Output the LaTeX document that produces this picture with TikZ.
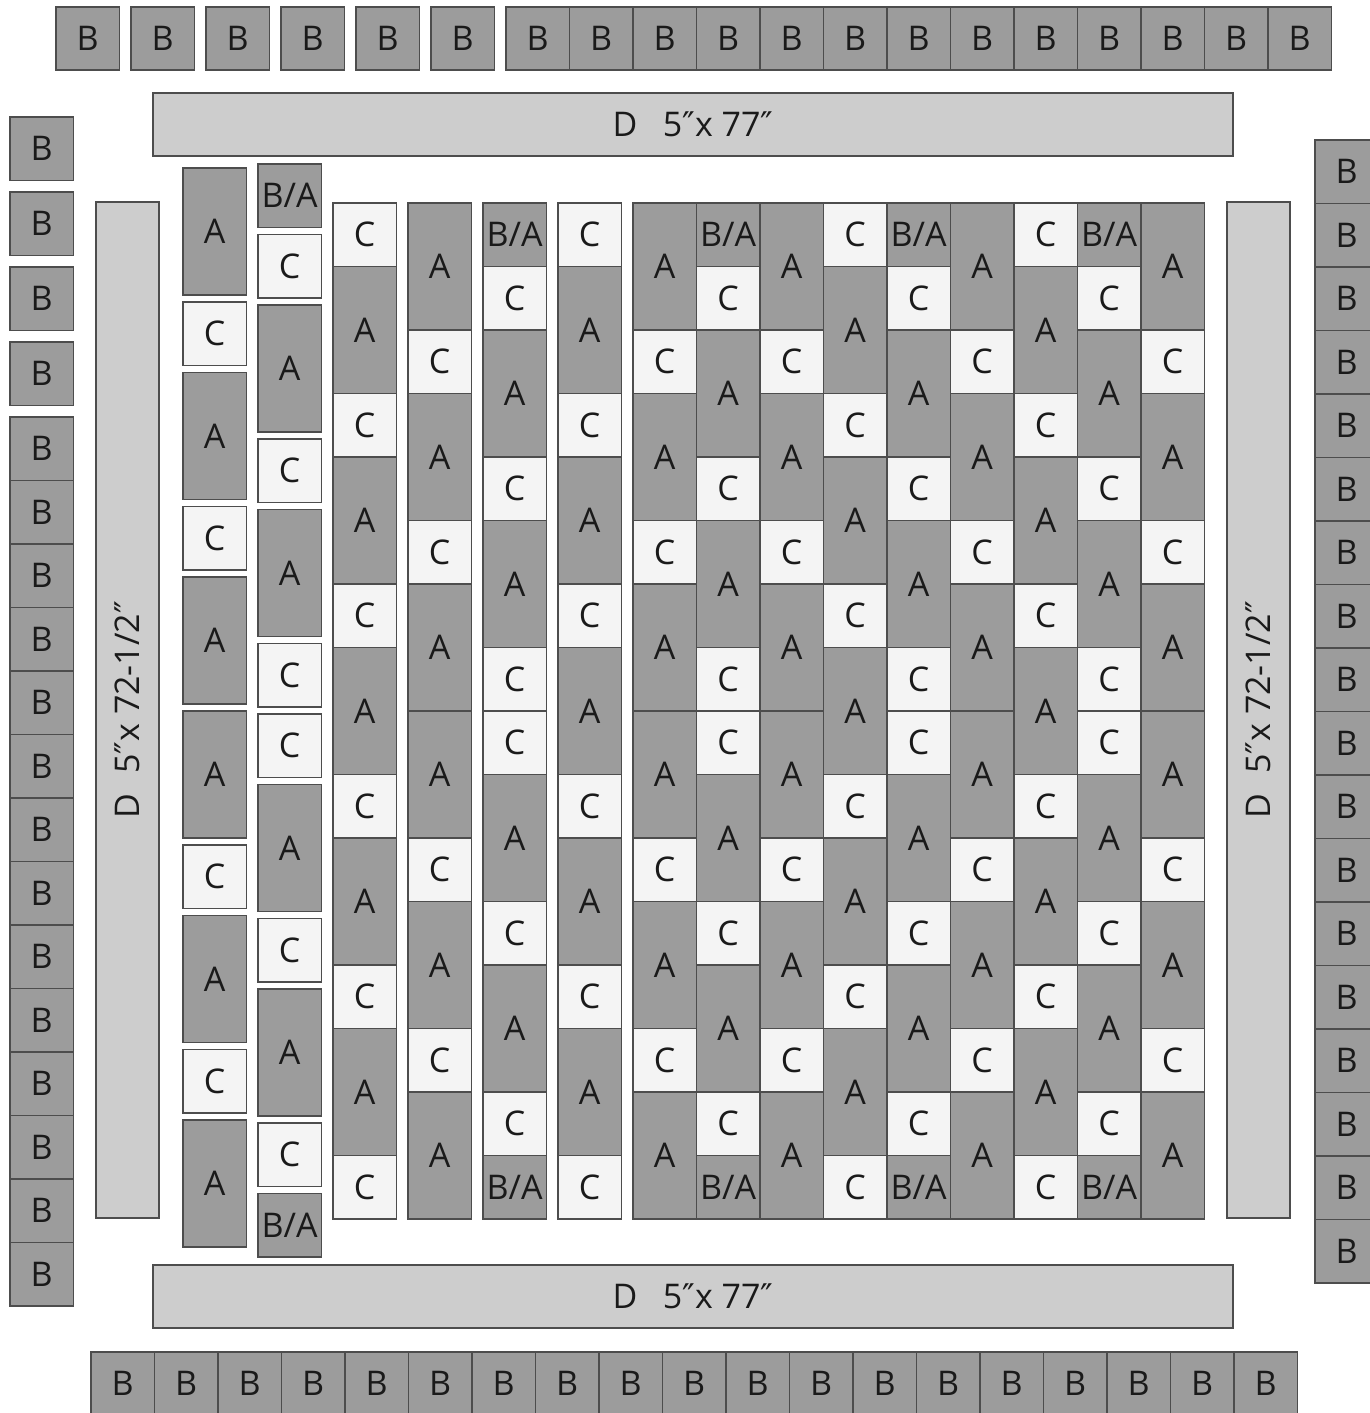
\documentclass[tikz,border=0pt]{standalone}
\usepackage{fontspec}
\setmainfont{Open Sans}
\newfontfamily\primefont{DejaVu Sans}
\usepackage{tikz}
\usetikzlibrary{positioning}
\definecolor{patchdark}{HTML}{9C9C9C}
\definecolor{patchlight}{HTML}{F4F4F4}
\definecolor{stripfill}{HTML}{CDCDCD}
\definecolor{seam}{HTML}{4D4D4D}
\definecolor{ink}{HTML}{1A1A1A}
\newcommand{\lblA}{A}
\newcommand{\lblC}{C}
\newcommand{\lblX}{B/A}
\newcommand{\dq}{{\primefont ″}}
% piece lists: start row / type (A = 2 rows, C and X = 1 row)
\newcommand{\colodd}{0/A,2/C,3/A,5/C,6/A,8/A,10/C,11/A,13/C,14/A}
\newcommand{\colba}{0/X,1/C,2/A,4/C,5/A,7/C,8/C,9/A,11/C,12/A,14/C,15/X}
\newcommand{\coleven}{0/C,1/A,3/C,4/A,6/C,7/A,9/C,10/A,12/C,13/A,15/C}
% one column: name, x, top y, gap between pieces, piece list
\newcommand{\piececol}[5]{%
  \foreach \r/\t [count=\k] in #5 {
    \node[piece\t] (#1-\k) at ({#2},{#3+\r*63.5+(\k-1)*#4}) {\csname lbl\t\endcsname};
  }}

\begin{document}
\begin{tikzpicture}[
    x=0.5pt,y=-0.5pt,
    patch/.style={draw=seam,line width=0.9pt,inner sep=0pt,anchor=north west,
      minimum width=31.75pt,text=ink,font=\fontsize{17}{20}\selectfont},
    pieceA/.style={patch,fill=patchdark,minimum height=63.5pt},
    pieceC/.style={patch,fill=patchlight,minimum height=31.75pt},
    pieceX/.style={patch,fill=patchdark,minimum height=31.75pt},
    bsquare/.style={patch,fill=patchdark,minimum height=31.75pt},
    dstrip/.style={draw=seam,line width=0.9pt,fill=stripfill,inner sep=0pt,
      text=ink,font=\fontsize{17}{20}\selectfont}
  ]
    \useasboundingbox (0,0) rectangle (1370,1413);

    % centre block
    \foreach \i in {0,2,5,8} {\piececol{m\i}{632+63.5*\i}{202}{0}{\colodd}}
    \foreach \i in {1,4,7} {\piececol{m\i}{632+63.5*\i}{202}{0}{\colba}}
    \foreach \i in {3,6} {\piececol{m\i}{632+63.5*\i}{202}{0}{\coleven}}

    % loose columns
    \piececol{s1}{557}{202}{0}{\coleven}
    \piececol{s2}{482}{202}{0}{\colba}
    \piececol{s3}{407}{202}{0}{\colodd}
    \piececol{s4}{332}{202}{0}{\coleven}

    % cut apart columns
    \piececol{e1}{257}{163}{7}{\colba}
    \piececol{e2}{182}{167}{7}{\colodd}

    % D borders
    \node[dstrip,minimum width=540pt,minimum height=31.75pt] (dtop) at (693,124.5)
      {D\hspace{0.75em}5\dq x 77\dq};
    \node[dstrip,minimum width=540pt,minimum height=31.75pt] (dbot) at (693,1296.5)
      {D\hspace{0.75em}5\dq x 77\dq};
    \node[dstrip,minimum width=508pt,minimum height=31.75pt,rotate=90] (dleft) at (127.5,710)
      {D\hspace{0.6em}5\dq x 72-1/2\dq};
    \node[dstrip,minimum width=508pt,minimum height=31.75pt,rotate=90] (dright) at (1258.5,710)
      {D\hspace{0.6em}5\dq x 72-1/2\dq};

    % B squares
    \foreach \i in {0,...,5} {\node[bsquare] (bt\i) at (55+75*\i,6) {B};}
    \foreach \i in {0,...,12} {\node[bsquare] (btr\i) at (505+63.5*\i,6) {B};}
    \foreach \i in {0,...,3} {\node[bsquare] (bl\i) at (9,116+75*\i) {B};}
    \foreach \i in {0,...,13} {\node[bsquare] (blr\i) at (9,416+63.5*\i) {B};}
    \foreach \i in {0,...,17} {\node[bsquare] (br\i) at (1314,139+63.5*\i) {B};}
    \foreach \i in {0,...,18} {\node[bsquare] (bb\i) at (90+63.5*\i,1351) {B};}
  \end{tikzpicture}
\end{document}
